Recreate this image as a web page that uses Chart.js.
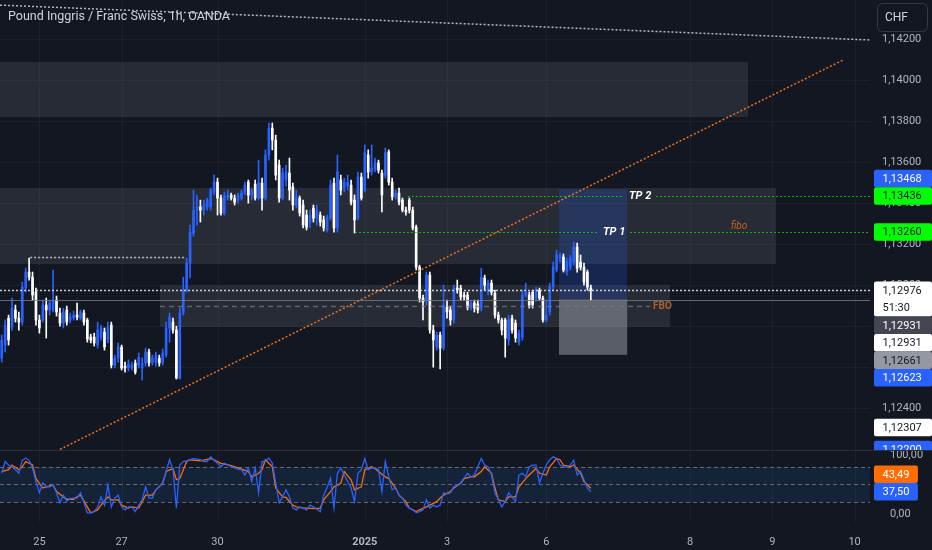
<!DOCTYPE html>
<html>
<head>
<meta charset="utf-8">
<title>GBP/CHF 1h</title>
<script src="https://cdn.jsdelivr.net/npm/chart.js@4.4.1/dist/chart.umd.min.js"></script>
<style>
  html, body { margin: 0; padding: 0; background: #131722; }
  #wrap { position: relative; width: 932px; height: 550px; overflow: hidden; }
  #priceChart { position: absolute; left: 0; top: 0; }
  #stochChart { position: absolute; left: 0; top: 440px; }
</style>
</head>
<body>
<div id="wrap">
  <canvas id="priceChart" width="932" height="450"></canvas>
  <canvas id="stochChart" width="932" height="110"></canvas>
</div>
<script>
// 1h candles, oldest first
const opens = [
  1.12645,1.12709,1.12840,1.12797,1.12880,1.12840,1.12821,1.12987,1.13065,1.13040,
  1.12967,1.12831,1.12831,1.12904,1.12880,1.12880,1.12928,1.12865,1.12816,1.12880,
  1.12831,1.12840,1.12855,1.12840,1.12865,1.12831,1.12748,1.12748,1.12709,1.12748,
  1.12772,1.12733,1.12806,1.12611,1.12645,1.12699,1.12606,1.12597,1.12597,1.12621,
  1.12611,1.12597,1.12621,1.12675,1.12626,1.12626,1.12645,1.12626,1.12660,1.12792,
  1.12821,1.12782,1.12548,1.12865,1.12977,1.13109,1.13255,1.13367,1.13382,1.13367,
  1.13382,1.13382,1.13455,1.13504,1.13426,1.13353,1.13426,1.13441,1.13426,1.13416,
  1.13426,1.13450,1.13504,1.13441,1.13494,1.13426,1.13499,1.13426,1.13636,1.13767,
  1.13709,1.13587,1.13426,1.13514,1.13548,1.13480,1.13392,1.13426,1.13392,1.13343,
  1.13309,1.13377,1.13328,1.13343,1.13319,1.13270,1.13328,1.13499,1.13280,1.13514,
  1.13475,1.13484,1.13489,1.13416,1.13328,1.13528,1.13465,1.13636,1.13553,1.13562,
  1.13597,1.13548,1.13538,1.13651,1.13504,1.13431,1.13450,1.13416,1.13367,1.13416,
  1.13367,1.13284,1.13089,1.12938,1.12928,1.13050,1.12782,1.12699,1.12758,1.12694,
  1.12894,1.12880,1.12831,1.12987,1.12987,1.12953,1.12953,1.12894,1.12914,1.12909,
  1.12889,1.13036,1.12967,1.13011,1.12962,1.12855,1.12831,1.12831,1.12733,1.12840,
  1.12816,1.12723,1.12748,1.12953,1.12953,1.12967,1.12938,1.12977,1.12938,1.12831,
  1.12870,1.12992,1.13075,1.13133,1.13138,1.13065,1.13089,1.13114,1.13187,1.13114,
  1.13089,1.13065,1.12987
];
const highs = [
  1.12758,1.12831,1.12855,1.12938,1.12904,1.12870,1.13016,1.13084,1.13133,1.13065,
  1.12987,1.12855,1.12928,1.12938,1.12928,1.13075,1.12948,1.12889,1.12889,1.12899,
  1.12865,1.12875,1.12914,1.12880,1.12880,1.12840,1.12762,1.12767,1.12821,1.12806,
  1.12792,1.12821,1.12821,1.12660,1.12719,1.12709,1.12626,1.12636,1.12626,1.12636,
  1.12670,1.12645,1.12694,1.12689,1.12660,1.12675,1.12660,1.12689,1.12821,1.12865,
  1.12840,1.12801,1.12889,1.13040,1.13133,1.13294,1.13465,1.13441,1.13416,1.13416,
  1.13426,1.13475,1.13538,1.13523,1.13441,1.13455,1.13465,1.13450,1.13441,1.13450,
  1.13465,1.13504,1.13514,1.13475,1.13514,1.13611,1.13523,1.13661,1.13792,1.13792,
  1.13733,1.13611,1.13572,1.13587,1.13621,1.13499,1.13465,1.13436,1.13416,1.13367,
  1.13367,1.13392,1.13392,1.13358,1.13338,1.13343,1.13514,1.13523,1.13636,1.13538,
  1.13523,1.13538,1.13514,1.13441,1.13553,1.13548,1.13685,1.13661,1.13685,1.13621,
  1.13611,1.13562,1.13670,1.13661,1.13523,1.13465,1.13475,1.13426,1.13382,1.13426,
  1.13382,1.13294,1.13099,1.12953,1.13065,1.13065,1.12806,1.12772,1.12772,1.13001,
  1.12928,1.12899,1.13001,1.13026,1.13001,1.12967,1.12967,1.12928,1.12928,1.12928,
  1.13084,1.13050,1.13026,1.13026,1.12977,1.12870,1.12840,1.12840,1.12855,1.12855,
  1.12831,1.12782,1.12977,1.13011,1.12967,1.12977,1.12992,1.12987,1.12948,1.12928,
  1.13011,1.13114,1.13172,1.13158,1.13153,1.13133,1.13148,1.13211,1.13206,1.13148,
  1.13109,1.13075,1.13001
];
const lows = [
  1.12626,1.12675,1.12709,1.12782,1.12821,1.12782,1.12806,1.12967,1.13026,1.12928,
  1.12806,1.12767,1.12821,1.12743,1.12855,1.12870,1.12850,1.12801,1.12792,1.12806,
  1.12816,1.12831,1.12831,1.12831,1.12806,1.12723,1.12719,1.12704,1.12694,1.12733,
  1.12684,1.12719,1.12597,1.12597,1.12626,1.12587,1.12577,1.12582,1.12587,1.12567,
  1.12597,1.12538,1.12606,1.12606,1.12611,1.12606,1.12606,1.12611,1.12650,1.12723,
  1.12767,1.12543,1.12543,1.12855,1.12967,1.13036,1.13240,1.13294,1.13309,1.13343,
  1.13367,1.13367,1.13441,1.13343,1.13343,1.13343,1.13416,1.13416,1.13392,1.13401,
  1.13416,1.13441,1.13401,1.13416,1.13416,1.13416,1.13367,1.13416,1.13611,1.13661,
  1.13514,1.13406,1.13416,1.13484,1.13416,1.13367,1.13377,1.13338,1.13280,1.13270,
  1.13280,1.13309,1.13294,1.13289,1.13265,1.13260,1.13319,1.13260,1.13260,1.13441,
  1.13455,1.13465,1.13392,1.13255,1.13319,1.13416,1.13455,1.13523,1.13538,1.13553,
  1.13548,1.13358,1.13523,1.13489,1.13416,1.13421,1.13392,1.13358,1.13343,1.13353,
  1.13270,1.13075,1.12919,1.12831,1.12904,1.12767,1.12601,1.12684,1.12592,1.12684,
  1.12840,1.12806,1.12816,1.12962,1.12928,1.12928,1.12880,1.12880,1.12870,1.12865,
  1.12875,1.12977,1.12953,1.12953,1.12840,1.12816,1.12758,1.12650,1.12709,1.12767,
  1.12723,1.12709,1.12733,1.12943,1.12889,1.12889,1.12923,1.12928,1.12821,1.12821,
  1.12855,1.12977,1.13065,1.13114,1.13065,1.13050,1.13075,1.13099,1.13065,1.13075,
  1.13001,1.12977,1.12928
];
const closes = [
  1.12733,1.12806,1.12733,1.12889,1.12840,1.12821,1.12992,1.13065,1.13040,1.12953,
  1.12831,1.12792,1.12904,1.12880,1.12914,1.12928,1.12870,1.12816,1.12870,1.12821,
  1.12845,1.12855,1.12845,1.12870,1.12821,1.12738,1.12733,1.12719,1.12782,1.12792,
  1.12699,1.12797,1.12611,1.12645,1.12699,1.12597,1.12597,1.12616,1.12611,1.12577,
  1.12650,1.12621,1.12675,1.12621,1.12645,1.12660,1.12621,1.12670,1.12792,1.12845,
  1.12782,1.12548,1.12865,1.12977,1.13109,1.13260,1.13367,1.13382,1.13367,1.13392,
  1.13416,1.13465,1.13504,1.13426,1.13353,1.13436,1.13441,1.13426,1.13406,1.13441,
  1.13450,1.13489,1.13441,1.13465,1.13426,1.13499,1.13426,1.13636,1.13767,1.13709,
  1.13538,1.13426,1.13548,1.13553,1.13465,1.13392,1.13431,1.13353,1.13294,1.13284,
  1.13343,1.13328,1.13367,1.13309,1.13280,1.13333,1.13489,1.13280,1.13553,1.13465,
  1.13504,1.13504,1.13406,1.13319,1.13528,1.13426,1.13646,1.13553,1.13572,1.13597,
  1.13562,1.13441,1.13646,1.13504,1.13431,1.13450,1.13406,1.13367,1.13358,1.13367,
  1.13280,1.13089,1.12938,1.12919,1.13050,1.12782,1.12733,1.12758,1.12694,1.12904,
  1.12870,1.12831,1.12987,1.12977,1.12943,1.12943,1.12894,1.12914,1.12889,1.12880,
  1.13040,1.13001,1.13011,1.12967,1.12855,1.12831,1.12782,1.12743,1.12831,1.12782,
  1.12743,1.12767,1.12953,1.12967,1.12904,1.12904,1.12977,1.12938,1.12831,1.12855,
  1.12992,1.13089,1.13148,1.13148,1.13075,1.13114,1.13133,1.13187,1.13084,1.13089,
  1.13016,1.12992,1.12976
];

// Stochastic: %K per candle, %D as [candle, value]
const stochK = [
  69,89,83,80,75,69,91,95,91,78, 55,36,53,46,46,49,36,19,32,22,
  26,27,27,36,19,2,2,4,12,29, 15,49,12,27,32,12,7,12,12,4,
  15,24,46,27,27,41,46,53,72,92, 75,10,83,89,90,92,94,93,92,89,
  89,97,91,86,80,86,83,80,78,76, 75,66,78,55,78,36,89,89,95,86,
  53,19,29,41,29,10,7,12,10,7, 15,12,8,4,32,45,61,10,69,78,
  66,55,44,21,69,75,94,75,78,78, 75,38,89,63,41,44,32,27,15,10,
  7,2,4,7,24,10,15,12,15,36, 34,36,46,49,53,61,69,63,66,80,
  94,83,80,66,36,24,12,21,36,29, 21,66,69,63,80,83,83,53,69,83,
  92,97,94,83,80,80,83,91,66,72, 58,44,37.5
];
const stochD = [
  [0,72],[2,75],[3,83],[5,75],[6,80],[7,89],[9,83],[10,60],[12,44],[13,46],
  [15,49],[16,38],[18,29],[19,25],[21,25],[22,29],[23,32],[25,12],[26,2],[28,7],
  [29,15],[31,29],[32,24],[34,24],[35,15],[37,10],[38,12],[40,10],[41,21],[42,32],
  [44,32],[45,41],[47,52],[48,72],[50,77],[51,58],[52,60],[54,89],[55,92],[58,90],
  [61,94],[62,92],[64,86],[67,82],[70,76],[72,72],[73,63],[75,69],[76,75],[77,92],
  [79,80],[80,44],[82,29],[83,28],[85,15],[86,12],[88,10],[89,10],[91,9],[93,10],
  [94,24],[96,38],[97,46],[99,52],[100,72],[102,58],[103,41],[105,46],[106,75],[108,80],
  [109,77],[110,72],[112,63],[113,60],[115,44],[116,32],[118,21],[119,10],[121,4],[122,7],
  [124,12],[125,15],[127,21],[128,27],[129,32],[131,38],[132,44],[134,52],[135,60],[137,63],
  [138,63],[140,72],[141,80],[143,69],[144,44],[145,24],[147,21],[148,29],[150,29],[151,46],
  [153,60],[154,66],[156,77],[157,69],[159,66],[160,80],[162,94],[163,92],[164,83],[166,80],
  [167,83],[169,69],[170,55],[172,43.49]
];

const dayTickLabels = ['25', '27', '30', '2025', '3', '6', '8', '9', '10'];
const dayTickBars = [11, 35, 63, 106, 130, 159, 201, 225, 249];
const priceTicks = [1.124, 1.126, 1.128, 1.130, 1.132, 1.134, 1.136, 1.138, 1.140, 1.142];
const stochTicks = [0, 100];
const stochLevels = [80, 50, 20];

const SLOTS = 254;           // bar slots on screen, the right part is empty future space
const PRICE_MIN = 1.12197;
const PRICE_MAX = 1.14392;

// drawings on the chart
const zones = [
  { from: -0.5, to: 217.9, top: 1.14089, bottom: 1.13821 },
  { from: -0.5, to: 226.1, top: 1.13475, bottom: 1.13104 },
  { from: 46.2, to: 195.1, top: 1.13001, bottom: 1.12797 },
];
const position = { from: 162.7, to: 182.6, target: 1.13468, entry: 1.12931, stop: 1.12661 };
const tpLines = [
  { price: 1.13436, from: 118.6, label: 'TP 2', at: 186.4 },
  { price: 1.13260, from: 103.2, label: 'TP 1', at: 178.8 },
];
const trendLine = { from: [17, 1.12200], to: [245.6, 1.14099] };
const topLine = { from: [-0.5, 1.14367], to: [253.5, 1.14197] };
const levelLine = { price: 1.13138, from: 8.3, to: 53.5 };
const fboLine = { price: 1.12900, from: 46.2, to: 189.3 };
const lastPrice = 1.12976;
const entryLinePrice = 1.12931;

const priceMarkers = [1.13468, 1.13436, 1.13260, 1.12976, 1.12931, 1.12931, 1.12661, 1.12623, 1.12307, 1.12200];
const priceMarkerColors = [
  ['#2962ff', '#ffffff'], ['#00ff00', '#131722'], ['#00ff00', '#131722'], ['#ffffff', '#131722'],
  ['#434651', '#ffffff'], ['#ffffff', '#131722'], ['#9598a1', '#131722'], ['#2962ff', '#ffffff'],
  ['#ffffff', '#131722'], ['#2962ff', '#ffffff'],
];

const GRID = '#1c202b';
const TEXT = '#b2b5be';
const UP = '#2962ff';
const DOWN = '#ffffff';
const FONT = 'Roboto, "Noto Sans", sans-serif';
const LABEL_H = 17.5;

const timeLabels = Array.from({ length: SLOTS }, (_, i) => {
  const k = dayTickBars.indexOf(i);
  return k >= 0 ? dayTickLabels[k] : '';
});
const candleColors = closes.map((c, i) => (c >= opens[i] ? UP : DOWN));
const stochDSeries = new Array(stochK.length).fill(null);
stochD.forEach(([b, v]) => { stochDSeries[b] = v; });

const fmtPrice = v => v.toFixed(5).replace('.', ',');
const fmtStoch = v => v.toFixed(2).replace('.', ',');

function line(ctx, x1, y1, x2, y2, color, width, dash) {
  ctx.strokeStyle = color;
  ctx.lineWidth = width;
  ctx.setLineDash(dash || []);
  ctx.beginPath();
  ctx.moveTo(x1, y1);
  ctx.lineTo(x2, y2);
  ctx.stroke();
}
function hLine(ctx, x1, x2, y, color, width, dash) {
  const yy = Math.round(y) + 0.5;
  line(ctx, x1, yy, x2, yy, color, width, dash);
}
function vLine(ctx, x, y1, y2, color) {
  const xx = Math.round(x) + 0.5;
  line(ctx, xx, y1, xx, y2, color, 1, []);
}

// keep the anchor label in place, push the others away from it
function stackMarkers(items, anchor) {
  const a = items[anchor];
  a.top = a.y - LABEL_H / 2;
  let limit = a.top;
  items.filter(it => it !== a && it.y <= a.y).sort((p, q) => q.y - p.y).forEach(it => {
    let top = it.y - LABEL_H / 2;
    if (top + LABEL_H * it.rows.length > limit) top = limit - LABEL_H * it.rows.length;
    it.top = top;
    limit = top;
  });
  limit = a.top + LABEL_H * a.rows.length;
  items.filter(it => it !== a && it.y > a.y).sort((p, q) => p.y - q.y).forEach(it => {
    let top = it.y - LABEL_H / 2;
    if (top < limit) top = limit;
    it.top = top;
    limit = top + LABEL_H * it.rows.length;
  });
}
function drawMarkers(ctx, items, left, right) {
  ctx.font = '11px ' + FONT;
  ctx.textAlign = 'left';
  ctx.textBaseline = 'middle';
  items.forEach(it => {
    const textW = Math.max(...it.rows.map(t => ctx.measureText(t).width));
    const w = right ? right - left : textW + 17;
    const h = LABEL_H * it.rows.length;
    ctx.fillStyle = it.bg;
    ctx.beginPath();
    if (ctx.roundRect) ctx.roundRect(left, it.top, w, h, 2); else ctx.rect(left, it.top, w, h);
    ctx.fill();
    ctx.fillStyle = it.fg;
    it.rows.forEach((t, r) => ctx.fillText(t, left + 8.5, it.top + LABEL_H * r + LABEL_H / 2 + 0.5));
  });
}

const priceDrawings = {
  id: 'priceDrawings',
  beforeDatasetsDraw(chart) {
    const { ctx, chartArea: a } = chart;
    const X = b => chart.scales.x.getPixelForValue(b);
    const Y = p => chart.scales.y.getPixelForValue(p);
    ctx.save();
    ctx.beginPath();
    ctx.rect(a.left, a.top, a.width, a.height);
    ctx.clip();
    dayTickBars.forEach(b => vLine(ctx, X(b), a.top, a.bottom, GRID));

    ctx.fillStyle = 'rgba(120,123,134,0.2)';
    zones.forEach(z => ctx.fillRect(X(z.from), Y(z.top), X(z.to) - X(z.from), Y(z.bottom) - Y(z.top)));

    const p = position;
    ctx.fillStyle = 'rgba(41,98,255,0.2)';
    ctx.fillRect(X(p.from), Y(p.target), X(p.to) - X(p.from), Y(p.entry) - Y(p.target));
    ctx.fillStyle = 'rgba(160,163,172,0.5)';
    ctx.fillRect(X(p.from), Y(p.entry), X(p.to) - X(p.from), Y(p.stop) - Y(p.entry));
    ctx.restore();
  },
  afterDatasetsDraw(chart) {
    const { ctx, chartArea: a } = chart;
    const X = b => chart.scales.x.getPixelForValue(b);
    const Y = p => chart.scales.y.getPixelForValue(p);
    ctx.save();
    ctx.beginPath();
    ctx.rect(a.left, a.top, a.width, a.height);
    ctx.clip();

    line(ctx, X(trendLine.from[0]), Y(trendLine.from[1]), X(trendLine.to[0]), Y(trendLine.to[1]), '#e8731e', 1.5, [2, 2]);
    line(ctx, X(topLine.from[0]), Y(topLine.from[1]), X(topLine.to[0]), Y(topLine.to[1]), 'rgba(210,212,220,0.85)', 1.5, [2, 2]);
    hLine(ctx, X(levelLine.from), X(levelLine.to), Y(levelLine.price), 'rgba(210,212,220,0.85)', 1.5, [2, 2]);
    hLine(ctx, a.left, a.right, Y(entryLinePrice), 'rgba(120,123,134,0.8)', 1, []);
    hLine(ctx, X(fboLine.from), X(fboLine.to), Y(fboLine.price), 'rgba(120,123,134,0.7)', 1.5, [5, 4]);
    hLine(ctx, a.left, a.right, Y(lastPrice), 'rgba(225,226,232,0.9)', 1.5, [2, 2]);

    ctx.font = 'italic bold 11px ' + FONT;
    ctx.textAlign = 'center';
    ctx.textBaseline = 'middle';
    tpLines.forEach(t => {
      const y = Y(t.price);
      const cx = X(t.at);
      const w = ctx.measureText(t.label).width;
      hLine(ctx, X(t.from), cx - w / 2 - 5, y, '#00e600', 1, [1.5, 2.5]);
      hLine(ctx, cx + w / 2 + 5, a.right, y, '#00e600', 1, [1.5, 2.5]);
      ctx.fillStyle = '#ffffff';
      ctx.fillText(t.label, cx, y);
    });

    ctx.font = 'italic 10px ' + FONT;
    ctx.fillStyle = '#c8641e';
    ctx.fillText('fibo', X(215.3), Y(1.13289));
    ctx.font = 'bold 10px ' + FONT;
    ctx.textAlign = 'left';
    ctx.fillStyle = '#a8622e';
    ctx.fillText('FBO', X(fboLine.to) + 3, Y(fboLine.price) + 0.5);
    ctx.restore();
  },
  afterDraw(chart) {
    const { ctx, chartArea: a, width } = chart;
    const Y = p => chart.scales.y.getPixelForValue(p);
    ctx.save();
    const items = priceMarkers.map((v, i) => ({
      y: Y(v),
      rows: v === lastPrice ? [fmtPrice(v), '51:30'] : [fmtPrice(v)],
      bg: priceMarkerColors[i][0],
      fg: priceMarkerColors[i][1],
    }));
    stackMarkers(items, priceMarkers.indexOf(lastPrice));
    drawMarkers(ctx, items, a.right + 4, width);

    ctx.font = '12.5px ' + FONT;
    ctx.fillStyle = '#d1d4dc';
    ctx.textAlign = 'left';
    ctx.textBaseline = 'middle';
    ctx.fillText('Pound Inggris / Franc Swiss, 1h, OANDA', 8, 17);

    ctx.strokeStyle = '#363a45';
    ctx.lineWidth = 1;
    ctx.setLineDash([]);
    ctx.beginPath();
    if (ctx.roundRect) ctx.roundRect(877.5, 3.5, 50, 28, 5); else ctx.rect(877.5, 3.5, 50, 28);
    ctx.stroke();
    ctx.font = '12px ' + FONT;
    ctx.fillStyle = '#d1d4dc';
    ctx.fillText('CHF', 885, 18);
    ctx.restore();
  },
};

const stochDrawings = {
  id: 'stochDrawings',
  beforeDatasetsDraw(chart) {
    const { ctx, chartArea: a, width } = chart;
    const X = b => chart.scales.x.getPixelForValue(b);
    const Y = v => chart.scales.y.getPixelForValue(v);
    ctx.save();
    dayTickBars.forEach(b => vLine(ctx, X(b), a.top, a.bottom, GRID));
    ctx.fillStyle = 'rgba(33,150,243,0.1)';
    ctx.fillRect(a.left, Y(stochLevels[0]), a.width, Y(stochLevels[2]) - Y(stochLevels[0]));
    stochLevels.forEach(v => hLine(ctx, a.left, a.right, Y(v), 'rgba(120,123,134,0.8)', 1, [4, 3]));
    hLine(ctx, 0, width, a.top, '#2a2e39', 1, []);
    ctx.restore();
  },
  afterDraw(chart) {
    const { ctx, chartArea: a } = chart;
    const Y = v => chart.scales.y.getPixelForValue(v);
    const kLast = stochK[stochK.length - 1];
    const dLast = stochD[stochD.length - 1][1];
    const items = [
      { y: Y(dLast), rows: [fmtStoch(dLast)], bg: '#ff6d00', fg: '#ffffff' },
      { y: Y(kLast), rows: [fmtStoch(kLast)], bg: '#2962ff', fg: '#ffffff' },
    ];
    ctx.save();
    stackMarkers(items, 1);
    drawMarkers(ctx, items, a.right + 4, null);
    ctx.restore();
  },
};

new Chart(document.getElementById('priceChart'), {
  type: 'bar',
  data: {
    labels: timeLabels,
    datasets: [
      {
        data: highs.map((h, i) => [lows[i], h]),
        backgroundColor: candleColors,
        barThickness: 1,
        grouped: false,
        order: 2,
      },
      {
        data: opens.map((o, i) => [o, closes[i]]),
        backgroundColor: candleColors,
        barThickness: 2,
        minBarLength: 1,
        grouped: false,
        order: 1,
      },
    ],
  },
  options: {
    responsive: false,
    animation: false,
    layout: { padding: 0 },
    plugins: { legend: { display: false }, tooltip: { enabled: false } },
    scales: {
      x: { display: false },
      y: {
        position: 'right',
        min: PRICE_MIN,
        max: PRICE_MAX,
        afterBuildTicks: s => { s.ticks = priceTicks.map(v => ({ value: v })); },
        afterFit: s => { s.width = 62; s.paddingTop = 0; s.paddingBottom = 0; },
        grid: { color: GRID, drawTicks: false },
        border: { display: false },
        ticks: { color: TEXT, padding: 12, font: { family: FONT, size: 11 }, callback: v => fmtPrice(v) },
      },
    },
  },
  plugins: [priceDrawings],
});

new Chart(document.getElementById('stochChart'), {
  type: 'line',
  data: {
    labels: timeLabels,
    datasets: [
      { data: stochK, borderColor: '#2962ff', borderWidth: 1.3, pointRadius: 0, tension: 0 },
      { data: stochDSeries, borderColor: '#ff6d00', borderWidth: 1.3, pointRadius: 0, tension: 0, spanGaps: true },
    ],
  },
  options: {
    responsive: false,
    animation: false,
    layout: { padding: { top: 10 } },
    plugins: { legend: { display: false }, tooltip: { enabled: false } },
    scales: {
      x: {
        offset: true,
        grid: { display: false },
        border: { display: false },
        afterFit: s => { s.height = 28; s.paddingLeft = 0; s.paddingRight = 0; },
        ticks: {
          autoSkip: false,
          maxRotation: 0,
          padding: 6,
          color: TEXT,
          font: ctx => ({ family: FONT, size: 11, weight: ctx.tick && ctx.tick.label === '2025' ? 'bold' : 'normal' }),
        },
      },
      y: {
        position: 'right',
        min: -13.6,
        max: 108.5,
        afterBuildTicks: s => { s.ticks = stochTicks.map(v => ({ value: v })); },
        afterFit: s => { s.width = 62; s.paddingTop = 0; s.paddingBottom = 0; },
        grid: { display: false },
        border: { display: false },
        ticks: { color: TEXT, padding: 12, font: { family: FONT, size: 11 }, callback: v => fmtStoch(v) },
      },
    },
  },
  plugins: [stochDrawings],
});
</script>
</body>
</html>
